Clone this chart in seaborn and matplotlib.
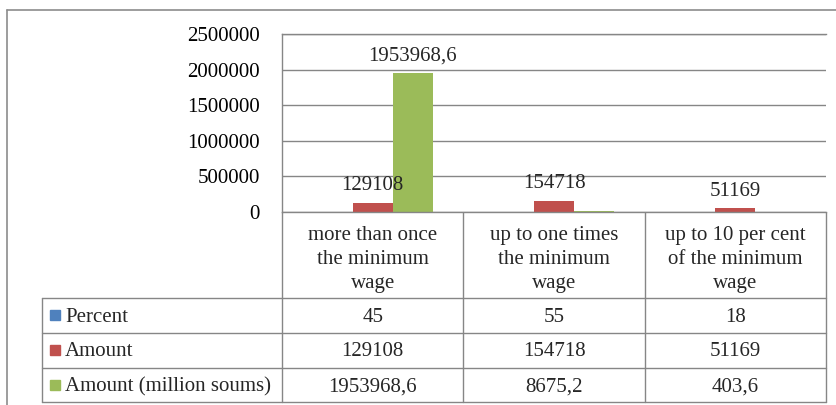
import numpy as np
import pandas as pd
import matplotlib
matplotlib.use('Agg')
import matplotlib.pyplot as plt
import matplotlib.transforms as mtransforms
from matplotlib.patches import Rectangle
import seaborn as sns

# chart data
categories = ["more than once\nthe minimum\nwage",
              "up to one times\nthe minimum\nwage",
              "up to 10 per cent\nof the minimum\nwage"]
series = ["Percent", "Amount", "Amount (million soums)"]
percent = [45, 55, 18]
amount = [129108, 154718, 51169]
amount_mln = [1953968.6, 8675.2, 403.6]
yticks = [0, 500000, 1000000, 1500000, 2000000, 2500000]
# which bars carry a data label (series, category index)
labelled = [("Amount", 0), ("Amount (million soums)", 0), ("Amount", 1), ("Amount", 2)]

colors = ['#4F81BD', '#C0504D', '#9BBB59']
grid_col = '#868686'


def fmt(v):
    if float(v).is_integer():
        return str(int(v))
    return f"{v:.1f}".replace('.', ',')


sns.set_style('white')
plt.rcParams['font.family'] = ['Liberation Serif', 'DejaVu Serif']
plt.rcParams['font.size'] = 15

df = pd.DataFrame({
    'category': categories * 3,
    'series': np.repeat(series, 3),
    'value': percent + amount + amount_mln,
})

W, H = 836, 405
fig = plt.figure(figsize=(W / 100, H / 100), dpi=100)


def box(x0, y0, x1, y1):
    return [x0 / W, 1 - y1 / H, (x1 - x0) / W, (y1 - y0) / H]


ax = fig.add_axes(box(282, 34, 826, 212))
sns.barplot(data=df, x='category', y='value', hue='series', order=categories,
            hue_order=series, palette=colors, saturation=1, width=0.66,
            linewidth=0, legend=False, ax=ax)

ax.set_xlim(-0.5, 2.5)
ax.set_ylim(0, 2500000)
ax.set_yticks(yticks)
ax.set_yticklabels([str(t) for t in yticks])
ax.set_xticks([])
ax.set_xlabel('')
ax.set_ylabel('')
ax.tick_params(axis='y', length=0, pad=16, labelsize=15, labelcolor='black')
ax.yaxis.grid(True, color=grid_col, lw=1)
ax.set_axisbelow(True)
for side in ['left', 'top', 'bottom']:
    ax.spines[side].set_color(grid_col)
    ax.spines[side].set_linewidth(1)
ax.spines['right'].set_visible(False)

# data labels
for s, c in labelled:
    i = series.index(s)
    bar = ax.containers[i][c]
    x = bar.get_x() + bar.get_width() / 2
    h = bar.get_height()
    ax.annotate(fmt(df.loc[(df.series == s) & (df.category == categories[c]), 'value'].iloc[0]),
                (x, h), xytext=(0, 9), textcoords='offset points',
                ha='center', va='baseline', fontsize=15)

# overlay for the data table and the chart border
over = fig.add_axes([0, 0, 1, 1], zorder=-1)
over.set_xlim(0, W)
over.set_ylim(H, 0)
over.axis('off')
lc = '#8c8c8c'
over.plot([7, W], [10, 10], color=lc, lw=1.2, clip_on=False)
over.plot([7, 7], [10, H], color=lc, lw=1.2, clip_on=False)

tr = mtransforms.blended_transform_factory(ax.transData, over.transData)
for b in [-0.5, 0.5, 1.5, 2.5]:
    over.plot([b, b], [212, 402], color=grid_col, lw=1, transform=tr)
over.plot([42, 42], [298, 402], color=grid_col, lw=1)
row_lines = [298, 333, 368, 402]
for y in row_lines:
    over.plot([42, 826], [y, y], color=grid_col, lw=1)

for i, cat in enumerate(categories):
    for j, line in enumerate(cat.split('\n')):
        over.text(i, 240 + 24 * j, line, transform=tr, ha='center', va='baseline')

table_rows = [percent, amount, amount_mln]
for r, name in enumerate(series):
    base = row_lines[r] + 23.5
    over.add_patch(Rectangle((50, base - 12), 10, 10, color=colors[r]))
    over.text(65, base, name, ha='left', va='baseline')
    for c, v in enumerate(table_rows[r]):
        over.text(c, base, fmt(v), transform=tr, ha='center', va='baseline')

fig.savefig('out.png', dpi=100)
